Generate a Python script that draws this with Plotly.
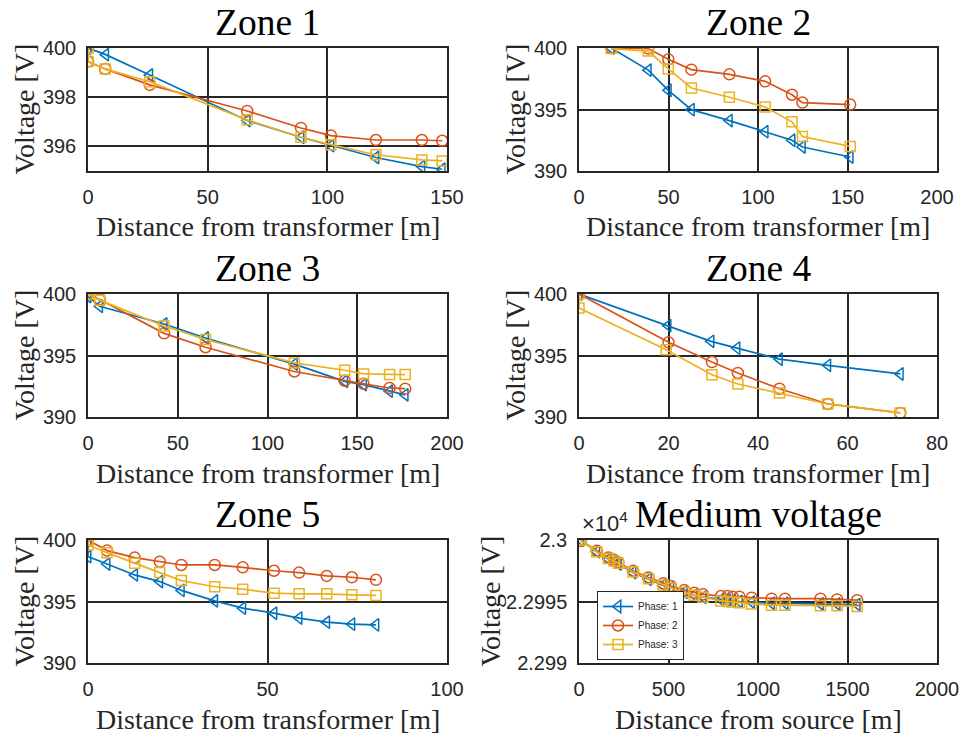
import plotly.graph_objects as go

# ---------------- data ----------------
# Zone 1
z1_dist_p1 = [0, 7.4, 25.8, 66.5, 89, 101.5, 120.3, 139.5, 148]
z1_volt_p1 = [400, 399.73, 398.9, 397.05, 396.37, 396.03, 395.55, 395.18, 395.07]
z1_dist_p23 = [0, 0, 7.2, 25.8, 66.5, 89, 101.5, 120.3, 139.5, 148]
z1_volt_p2 = [400, 399.45, 399.15, 398.5, 397.44, 396.75, 396.44, 396.26, 396.26, 396.23]
z1_volt_p3 = [400, 399.45, 399.15, 398.63, 397.08, 396.37, 396.07, 395.66, 395.45, 395.41]

# Zone 2
z2_dist = [18, 38.7, 49.9, 62.8, 84, 104, 119, 124.8, 151.5]
z2_volt_p1 = [400, 398.2, 396.56, 394.99, 394.1, 393.2, 392.5, 391.95, 391.14]
z2_volt_p2 = [400, 399.95, 399.08, 398.24, 397.86, 397.29, 396.2, 395.56, 395.4]
z2_volt_p3 = [399.95, 399.75, 398.3, 396.75, 396.0, 395.2, 394.0, 392.8, 392.0]

# Zone 3
z3_dist = [0, 6.5, 42.4, 65.5, 115, 143, 153.5, 168, 176.7]
z3_volt_p1 = [399.8, 399.0, 397.56, 396.42, 394.3, 392.9, 392.63, 392.1, 391.8]
z3_volt_p2 = [400, 399.55, 396.8, 395.67, 393.7, 392.95, 392.7, 392.36, 392.3]
z3_volt_p3 = [400, 399.5, 397.4, 396.3, 394.4, 393.8, 393.5, 393.45, 393.45]

# Zone 4
z4_dist_p1 = [0, 19.9, 29.5, 35.3, 44.8, 55.6, 71.8]
z4_volt_p1 = [400, 397.43, 396.15, 395.6, 394.7, 394.2, 393.5]
z4_dist_p2 = [0, 20.0, 29.7, 35.5, 44.8, 55.6, 71.8]
z4_volt_p2 = [400, 396.07, 394.47, 393.58, 392.3, 391.06, 390.33]
z4_dist_p3 = [0, 0, 19.5, 29.7, 35.5, 44.8, 55.6, 71.8]
z4_volt_p3 = [400, 398.86, 395.47, 393.44, 392.68, 391.95, 391.06, 390.33]

# Zone 5
z5_dist_p13 = [0, 0, 5.3, 13, 20, 26, 35.3, 43.1, 51.8, 58.8, 66.5, 73.5, 80.2]
z5_volt_p1 = [400, 398.65, 398.05, 397.16, 396.62, 395.9, 395.05, 394.46, 394.05, 393.65, 393.32, 393.16, 393.1]
z5_volt_p3 = [400, 399.6, 398.97, 398.1, 397.35, 396.7, 396.2, 396.0, 395.68, 395.62, 395.62, 395.54, 395.49]
z5_dist_p2 = [0, 5.3, 13, 20, 26, 35.3, 43.1, 51.8, 58.8, 66.5, 73.5, 80.2]
z5_volt_p2 = [400, 399.14, 398.57, 398.24, 397.97, 397.97, 397.78, 397.5, 397.35, 397.08, 396.97, 396.76]

# Medium voltage feeder
mv_dist = [10, 99, 164, 196, 220, 302, 388, 470, 513, 588, 644, 694,
           793, 830, 858, 896, 964, 1076, 1151, 1349, 1442, 1554]
mv_volt_p1 = [23000, 22999.05, 22998.45, 22998.25, 22998.05, 22997.35, 22996.8, 22996.3,
              22996.1, 22995.75, 22995.5, 22995.35, 22995.15, 22995.1, 22995.05, 22995.0,
              22994.95, 22994.85, 22994.85, 22994.8, 22994.8, 22994.75]
mv_volt_p2 = [22999.94, 22999.12, 22998.58, 22998.39, 22998.18, 22997.49, 22996.95, 22996.48,
              22996.26, 22995.93, 22995.72, 22995.58, 22995.44, 22995.44, 22995.39, 22995.39,
              22995.31, 22995.23, 22995.23, 22995.23, 22995.17, 22995.11]
mv_volt_p3 = [23000, 22999.05, 22998.5, 22998.3, 22998.1, 22997.4, 22996.85, 22996.35,
              22996.1, 22995.75, 22995.5, 22995.35, 22995.05, 22995.0, 22994.95, 22994.9,
              22994.8, 22994.7, 22994.7, 22994.65, 22994.65, 22994.6]

phase_names = ["Phase: 1", "Phase: 2", "Phase: 3"]
mv_ytickvals = [22990, 22995, 23000]
mv_yticktext = ["2.299", "2.2995", "2.3"]

# ---------------- styling ----------------
W, H = 963, 738
C1, C2, C3 = "#0072BD", "#D95319", "#EDB120"
SYMBOLS = ["triangle-left-open", "circle-open", "square-open"]
SIZES = [11, 11, 10]
COLORS = [C1, C2, C3]
SERIF = "Liberation Serif, Times New Roman, serif"
SANS = "Liberation Sans, Arial, sans-serif"


def fx(p):
    return p / W


def fy(p):
    return 1 - p / H


# panel boxes in pixels: (left, right, top, bottom)
cols = [(88, 447), (579, 937)]
rows = [(48, 171), (294, 417), (540, 663)]

panels = [
    dict(title="Zone 1", xlab="Distance from transformer [m]", xr=[0, 150], xt=[0, 50, 100, 150],
         yr=[395, 400], yt=[396, 398, 400], ytt=None,
         series=[(z1_dist_p1, z1_volt_p1), (z1_dist_p23, z1_volt_p2), (z1_dist_p23, z1_volt_p3)]),
    dict(title="Zone 2", xlab="Distance from transformer [m]", xr=[0, 200], xt=[0, 50, 100, 150, 200],
         yr=[390, 400], yt=[390, 395, 400], ytt=None,
         series=[(z2_dist, z2_volt_p1), (z2_dist, z2_volt_p2), (z2_dist, z2_volt_p3)]),
    dict(title="Zone 3", xlab="Distance from transformer [m]", xr=[0, 200], xt=[0, 50, 100, 150, 200],
         yr=[390, 400], yt=[390, 395, 400], ytt=None,
         series=[(z3_dist, z3_volt_p1), (z3_dist, z3_volt_p2), (z3_dist, z3_volt_p3)]),
    dict(title="Zone 4", xlab="Distance from transformer [m]", xr=[0, 80], xt=[0, 20, 40, 60, 80],
         yr=[390, 400], yt=[390, 395, 400], ytt=None,
         series=[(z4_dist_p1, z4_volt_p1), (z4_dist_p2, z4_volt_p2), (z4_dist_p3, z4_volt_p3)]),
    dict(title="Zone 5", xlab="Distance from transformer [m]", xr=[0, 100], xt=[0, 50, 100],
         yr=[390, 400], yt=[390, 395, 400], ytt=None,
         series=[(z5_dist_p13, z5_volt_p1), (z5_dist_p2, z5_volt_p2), (z5_dist_p13, z5_volt_p3)]),
    dict(title="Medium voltage", xlab="Distance from source [m]", xr=[0, 2000], xt=[0, 500, 1000, 1500, 2000],
         yr=[22990, 23000], yt=mv_ytickvals, ytt=mv_yticktext,
         series=[(mv_dist, mv_volt_p1), (mv_dist, mv_volt_p2), (mv_dist, mv_volt_p3)]),
]

fig = go.Figure()
layout = dict(
    template="none",
    width=W, height=H, autosize=False,
    margin=dict(l=0, r=0, t=0, b=0, pad=0, autoexpand=False),
    paper_bgcolor="white", plot_bgcolor="white",
    showlegend=True,
    legend=dict(x=fx(597), y=fy(591), xanchor="left", yanchor="top",
                bgcolor="white", bordercolor="#262626", borderwidth=1,
                font=dict(family=SANS, size=10, color="#262626"),
                tracegroupgap=0, itemwidth=30),
)
annotations = []

for i, p in enumerate(panels):
    c = i % 2
    r = i // 2
    l, rr = cols[c]
    t, b = rows[r]
    n = "" if i == 0 else str(i + 1)
    xa, ya = "x" + n, "y" + n
    is_mv = p["title"] == "Medium voltage"
    for k, (xs, ys) in enumerate(p["series"]):
        fig.add_trace(go.Scatter(
            x=xs, y=ys, xaxis=xa, yaxis=ya, mode="lines+markers",
            name=phase_names[k], showlegend=is_mv,
            line=dict(color=COLORS[k], width=1.7),
            marker=dict(symbol=SYMBOLS[k], size=SIZES[k],
                        color=COLORS[k], line=dict(width=1.5, color=COLORS[k])),
        ))
    axis_common = dict(
        automargin=False,
        showline=True, mirror=True, linecolor="#262626", linewidth=1.5,
        showgrid=True, gridcolor="#262626", gridwidth=1.5, zeroline=False,
        ticks="outside", tickcolor="rgba(0,0,0,0)",
        tickfont=dict(family=SANS, size=20, color="#262626"),
    )
    layout["xaxis" + n] = dict(
        axis_common, domain=[fx(l), fx(rr)], range=p["xr"], tickvals=p["xt"],
        ticklen=7, anchor=ya,
    )
    ydict = dict(
        axis_common, domain=[fy(b), fy(t)], range=p["yr"], tickvals=p["yt"],
        ticklen=6, anchor=xa,
    )
    if p["ytt"] is not None:
        ydict["ticktext"] = p["ytt"]
    layout["yaxis" + n] = ydict

    cx = (l + rr) / 2
    # panel title, hung from just above the axes box
    annotations.append(dict(
        text=p["title"], x=fx(cx), y=fy(t - 48), xref="paper", yref="paper",
        xanchor="center", yanchor="top", showarrow=False,
        font=dict(family=SERIF, size=37.5, color="black")))
    # x-axis title
    annotations.append(dict(
        text=p["xlab"], x=fx(cx), y=fy(b + 56), xref="paper", yref="paper",
        xanchor="center", yanchor="middle", showarrow=False,
        font=dict(family=SERIF, size=28, color="#262626")))
    # y-axis title
    ytx = l - 89 if is_mv else l - 64
    annotations.append(dict(
        text="Voltage [V]", x=fx(ytx), y=fy((t + b) / 2), xref="paper", yref="paper",
        xanchor="center", yanchor="middle", textangle=-90, showarrow=False,
        font=dict(family=SERIF, size=28, color="#262626")))
    if is_mv:
        annotations.append(dict(
            text="×10<sup>4</sup>", x=fx(l + 1), y=fy(t - 2), xref="paper", yref="paper",
            xanchor="left", yanchor="bottom", showarrow=False,
            font=dict(family=SANS, size=22, color="#262626")))

layout["annotations"] = annotations
fig.update_layout(**layout)
fig.write_html("out.html")
